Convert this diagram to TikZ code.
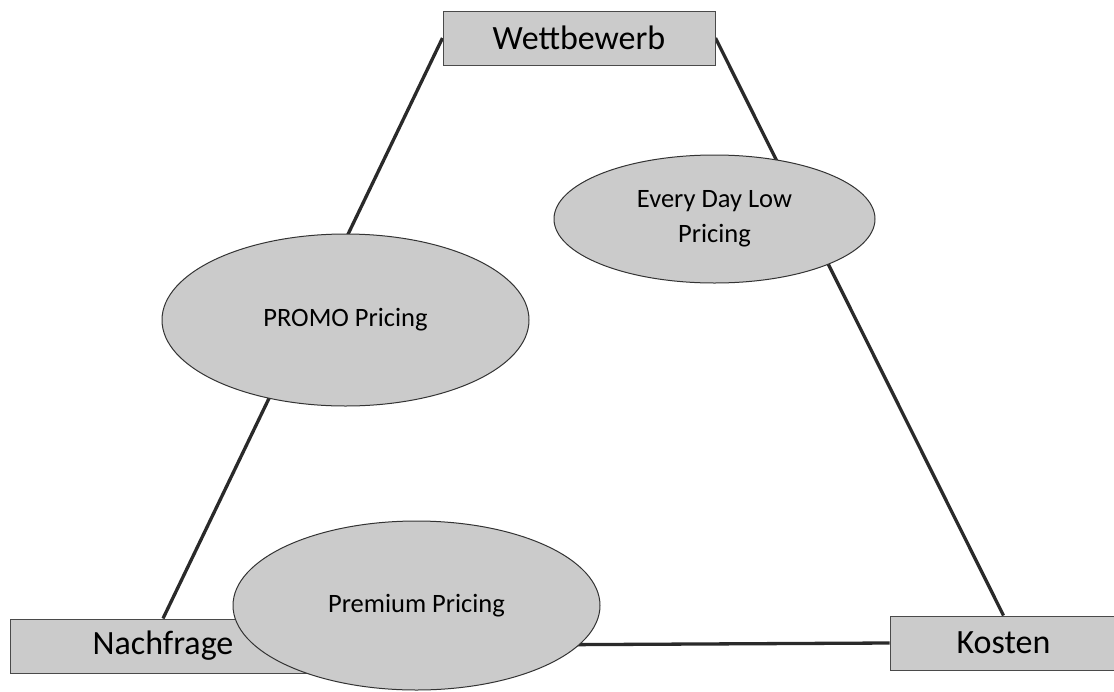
\documentclass[tikz,border=0pt]{standalone}
\usepackage{fontspec}
\setmainfont{Carlito}
\usetikzlibrary{shapes.geometric,backgrounds}
\definecolor{boxfill}{HTML}{CBCBCB}
\definecolor{boxline}{HTML}{4A4A4A}
\definecolor{ellline}{HTML}{333333}
\definecolor{conn}{HTML}{2A2A2A}
\tikzset{
  corner/.style={draw=boxline, line width=1pt, fill=boxfill, rectangle, inner sep=0pt,
    minimum height=54pt, font=\fontsize{34}{40}\selectfont, text=black},
  strat/.style={draw=ellline, line width=1pt, fill=boxfill, ellipse, inner sep=0pt,
    align=center, font=\fontsize{26.5}{35}\selectfont, text=black},
  link/.style={draw=conn, line width=3.3pt}
}
\begin{document}
\begin{tikzpicture}[x=1pt,y=-1pt]
\useasboundingbox (0,0) rectangle (1114,691);
\node[corner, minimum width=272pt] (W) at (579,38) {\raisebox{-2pt}{Wettbewerb}};
\node[corner, minimum width=306pt] (N) at (163,646) {\raisebox{-2pt}{Nachfrage}};
\node[corner, minimum width=227pt] (K) at (1003.5,643) {\raisebox{-2pt}{Kosten}};
\begin{pgfonlayer}{background}
\draw[link] (W.west) -- (N.north);
\draw[link] (W.east) -- (K.north);
\draw[link] (N.east) -- (K.west);
\end{pgfonlayer}
\node[strat, minimum width=367pt, minimum height=172pt] (P) at (345.5,320) {PROMO Pricing};
\node[strat, minimum width=321pt, minimum height=128pt] (E) at (714.5,219) {Every Day Low\\Pricing};
\node[strat, minimum width=367pt, minimum height=169pt] (R) at (416.5,605.5) {\raisebox{-4pt}{Premium Pricing}};
\end{tikzpicture}
\end{document}
